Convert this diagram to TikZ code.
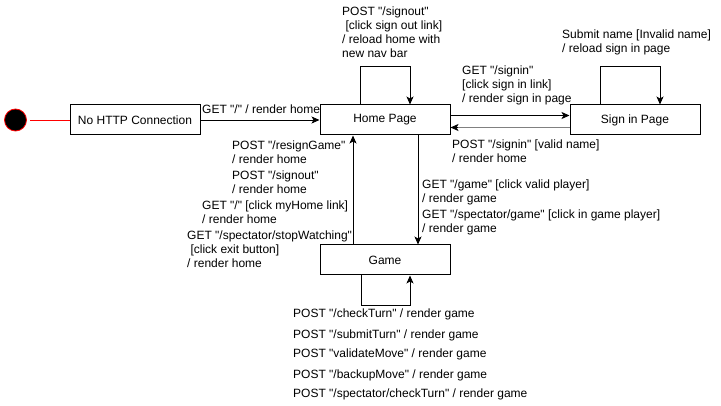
\documentclass[tikz,border=0pt]{standalone}
\usepackage{fontspec}
\setmainfont[Ligatures=TeXOff]{Liberation Sans}
\usetikzlibrary{arrows.meta}
\begin{document}
\begin{tikzpicture}[x=1pt,y=-1pt,
  state/.style={draw,line width=1pt,minimum width=130pt,minimum height=30pt,inner sep=0pt,font=\fontsize{12}{14}\selectfont},
  lbl/.style={inner sep=0pt,align=left,font=\fontsize{12}{13.8}\selectfont},
  arr/.style={line width=0.8pt,-{Stealth[length=8pt,width=7pt,inset=2pt]}},
  every node/.style={anchor=center}]
\useasboundingbox (0,0) rectangle (721,406);
% initial state
\node[circle,fill=black,draw=red,line width=0.8pt,minimum size=22pt,inner sep=0pt] (init) at (15.5,120) {};
\node[state] (nohttp) at (135,120) {No HTTP Connection};
\node[state] (home) at (385,120) {Home Page};
\node[state] (signin) at (635,120) {Sign in Page};
\node[state] (game) at (385,260) {Game};
\coordinate (initr) at (30,120);
\draw[red,line width=0.8pt] (initr) -- (nohttp.west);
% no http -> home
\draw[arr] (nohttp.east) -- (home.west);
\node[lbl,anchor=base west] (l1) at (202,114) {GET "/" / render home};
% home self loop
\coordinate (h1) at (360,66);
\coordinate (h2) at (410,66);
\draw[arr] (home.north -| h1) -- (h1) -- (h2) -- (home.north -| h2);
\node[lbl,anchor=north west] (l2) at (342,7) {POST "/signout"\\ \ [click sign out link]\\/ reload home with\\new nav bar};
% home -> signin
\coordinate (hs) at (450,115.5);
\draw[arr] (hs) -- (hs -| signin.west);
\node[lbl,anchor=north west] (l3) at (462,66) {GET "/signin"\\{}[click sign in link]\\/ render sign in page};
% signin -> home
\coordinate (sh) at (570,127.5);
\draw[line width=1.6pt,gray] (sh) -- ([xshift=6pt]sh -| home.east);
\draw[arr] ([xshift=7pt]sh -| home.east) -- (sh -| home.east);
\node[lbl,anchor=north west] (l4) at (452,140) {POST "/signin" [valid name]\\/ render home};
% signin self loop
\coordinate (s1) at (600,66);
\coordinate (s2) at (660,66);
\draw[arr] (signin.north -| s1) -- (s1) -- (s2) -- (signin.north -| s2);
\node[lbl,anchor=north west] (l5) at (562,30) {Submit name [Invalid name]\\/ reload sign in page};
% home -> game
\coordinate (hg) at (418,135);
\draw[arr] (hg) -- (hg |- game.north);
\node[lbl,anchor=north west] (l6) at (422,180) {GET "/game" [click valid player]\\/ render game};
\node[lbl,anchor=north west] (l7) at (422,210) {GET "/spectator/game" [click in game player]\\/ render game};
% game -> home
\coordinate (gh) at (353,245);
\draw[arr] (gh) -- (gh |- home.south);
\node[lbl,anchor=north west] (l8) at (232,141) {POST "/resignGame"\\/ render home};
\node[lbl,anchor=north west] (l9) at (232,171) {POST "/signout"\\/ render home};
\node[lbl,anchor=north west] (l10) at (202,201) {GET "/" [click myHome link]\\/ render home};
\node[lbl,anchor=north west] (l11) at (187,231) {GET "/spectator/stopWatching"\\ \ [click exit button]\\/ render home};
% game self loop
\coordinate (g1) at (361,305);
\coordinate (g2) at (410,305);
\draw[arr] (game.south -| g1) -- (g1) -- (g2) -- (game.south -| g2);
\node[lbl,anchor=base west] (b1) at (293,318) {POST "/checkTurn" / render game};
\node[lbl,anchor=base west] (b2) at (293,338) {POST "/submitTurn" / render game};
\node[lbl,anchor=base west] (b3) at (293,358) {POST "validateMove" / render game};
\node[lbl,anchor=base west] (b4) at (293,378) {POST "/backupMove" / render game};
\node[lbl,anchor=base west] (b5) at (293,398) {POST "/spectator/checkTurn" / render game};
\end{tikzpicture}
\end{document}
